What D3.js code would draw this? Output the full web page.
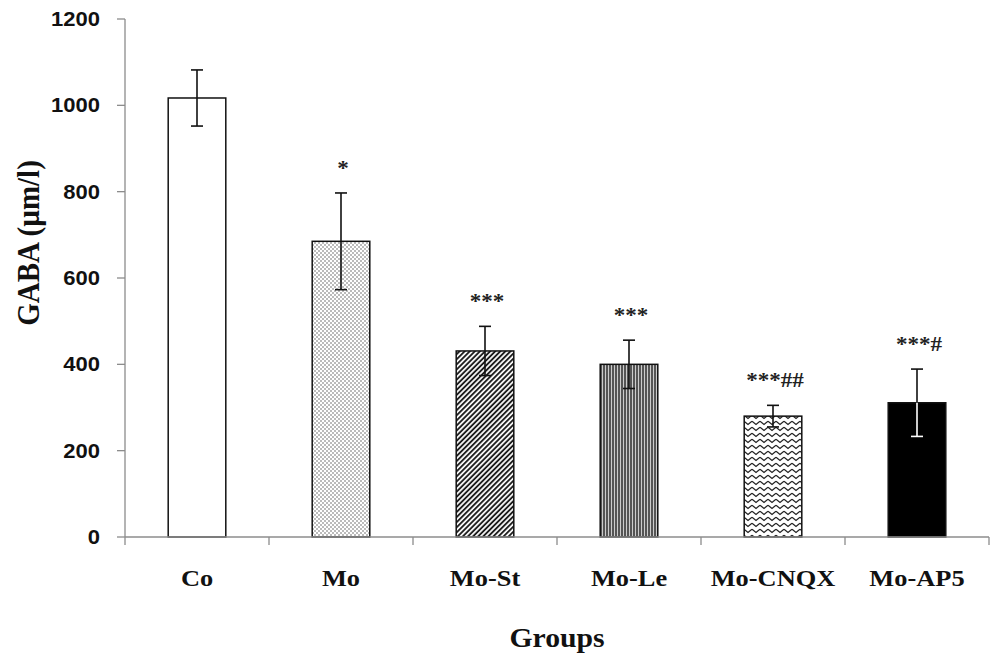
<!DOCTYPE html>
<html><head><meta charset="utf-8">
<script src="https://cdn.jsdelivr.net/npm/d3@7"></script>
<style>body{margin:0;background:#fff;} svg{display:block;}</style>
</head><body>
<svg id="c" width="992" height="655"></svg>
<script>
const groups = ["Co","Mo","Mo-St","Mo-Le","Mo-CNQX","Mo-AP5"];
const means  = [1017, 685, 431, 400, 280, 311];
const errors = [65, 112, 57, 56, 25, 78];
const sigLabels = ["", "*", "***", "***", "***##", "***#"];
const fills = ["white","dots","diag","vert","wave","black"];
const yTicks = [0,200,400,600,800,1000,1200];

const svg = d3.select("#c");
const x = d3.scaleBand().domain(groups).range([125, 989]).paddingInner(0.6).paddingOuter(0.3);
const y = d3.scaleLinear().domain([0,1200]).range([537, 19]);
const SX = 1.1;

// patterns
const defs = svg.append("defs");
const pDots = defs.append("pattern").attr("id","dots").attr("patternUnits","userSpaceOnUse").attr("width",4).attr("height",4);
pDots.append("rect").attr("width",4).attr("height",4).attr("fill","#fff");
pDots.append("circle").attr("cx",1).attr("cy",1).attr("r",0.7).attr("fill","#444");
pDots.append("circle").attr("cx",3).attr("cy",3).attr("r",0.7).attr("fill","#444");
const pDiag = defs.append("pattern").attr("id","diag").attr("patternUnits","userSpaceOnUse").attr("width",3.6).attr("height",3.6).attr("patternTransform","rotate(45)");
pDiag.append("rect").attr("width",3.6).attr("height",3.6).attr("fill","#fff");
pDiag.append("line").attr("x1",1).attr("x2",1).attr("y1",0).attr("y2",3.6).attr("stroke","#111").attr("stroke-width",1.8);
const pVert = defs.append("pattern").attr("id","vert").attr("patternUnits","userSpaceOnUse").attr("width",3).attr("height",3);
pVert.append("rect").attr("width",3).attr("height",3).attr("fill","#ccc");
pVert.append("line").attr("x1",1).attr("x2",1).attr("y1",0).attr("y2",3).attr("stroke","#222").attr("stroke-width",1.4);
const pWave = defs.append("pattern").attr("id","wave").attr("patternUnits","userSpaceOnUse").attr("width",8).attr("height",6);
pWave.append("rect").attr("width",8).attr("height",6).attr("fill","#fff");
pWave.append("path").attr("d","M0,1.2 L4,4.5 L8,1.2").attr("fill","none").attr("stroke","#222").attr("stroke-width",1.3);

const fillOf = f => (f==="white"||f==="black") ? (f==="white"?"#fff":"#000") : `url(#${f})`;

// axes
const axisColor = "#8c8c8c";
svg.append("line").attr("x1",125).attr("x2",125).attr("y1",y(1200)).attr("y2",y(0)).attr("stroke",axisColor).attr("stroke-width",1.3);
svg.selectAll(".yt").data(yTicks).join("line").attr("x1",117).attr("x2",125)
  .attr("y1",d=>y(d)).attr("y2",d=>y(d)).attr("stroke",axisColor).attr("stroke-width",1.3);
svg.selectAll(".yl").data(yTicks).join("text")
  .attr("transform",d=>`translate(100,${y(d)+7}) scale(${SX},1)`)
  .attr("text-anchor","end").attr("font-family","Liberation Sans, Arial, sans-serif")
  .attr("font-weight","bold").attr("font-size",20).attr("fill","#111").text(d=>d);

// bars
svg.selectAll(".bar").data(groups).join("rect")
  .attr("x",d=>x(d)).attr("width",x.bandwidth())
  .attr("y",(d,i)=>y(means[i])).attr("height",(d,i)=>y(0)-y(means[i]))
  .attr("fill",(d,i)=>fillOf(fills[i])).attr("stroke","#111").attr("stroke-width",1.5);

// x axis
svg.append("line").attr("x1",125).attr("x2",989).attr("y1",y(0)).attr("y2",y(0)).attr("stroke",axisColor).attr("stroke-width",1.3);
const bounds = groups.map(g=>x(g)-x.step()*x.paddingInner()/2).concat([989]);
svg.selectAll(".xt").data(bounds).join("line").attr("x1",d=>d).attr("x2",d=>d)
  .attr("y1",y(0)).attr("y2",y(0)+8).attr("stroke",axisColor).attr("stroke-width",1.3);
svg.selectAll(".xl").data(groups).join("text")
  .attr("transform",d=>`translate(${x(d)+x.bandwidth()/2},586) scale(${SX},1)`)
  .attr("text-anchor","middle").attr("font-family","Liberation Serif, Times New Roman, serif")
  .attr("font-weight","bold").attr("font-size",24).attr("fill","#111").text(d=>d);

// error bars
groups.forEach((g,i)=>{
  const cx = x(g)+x.bandwidth()/2;
  const lowColor = fills[i]==="black" ? "#fff" : "#111";
  svg.append("line").attr("x1",cx).attr("x2",cx).attr("y1",y(means[i])).attr("y2",y(means[i]+errors[i])).attr("stroke","#111").attr("stroke-width",1.6);
  svg.append("line").attr("x1",cx-6).attr("x2",cx+6).attr("y1",y(means[i]+errors[i])).attr("y2",y(means[i]+errors[i])).attr("stroke","#111").attr("stroke-width",1.6);
  svg.append("line").attr("x1",cx).attr("x2",cx).attr("y1",y(means[i])).attr("y2",y(means[i]-errors[i])).attr("stroke",lowColor).attr("stroke-width",1.6);
  svg.append("line").attr("x1",cx-6).attr("x2",cx+6).attr("y1",y(means[i]-errors[i])).attr("y2",y(means[i]-errors[i])).attr("stroke",lowColor).attr("stroke-width",1.6);
  if (sigLabels[i]) {
    svg.append("text").attr("transform",`translate(${cx+2},${y(means[i]+errors[i])-18}) scale(${SX},1)`)
      .attr("text-anchor","middle").attr("font-family","Liberation Serif, Times New Roman, serif")
      .attr("font-weight","bold").attr("font-size",21).attr("fill","#222").text(sigLabels[i]);
  }
});

// axis titles
svg.append("text").attr("transform",`translate(39,243) scale(${SX},1) rotate(-90)`)
  .attr("text-anchor","middle").attr("font-family","Liberation Serif, Times New Roman, serif")
  .attr("font-weight","bold").attr("font-size",29).attr("fill","#111").text("GABA (µm/l)");
svg.append("text").attr("transform",`translate(557,647) scale(${SX},1)`)
  .attr("text-anchor","middle").attr("font-family","Liberation Serif, Times New Roman, serif")
  .attr("font-weight","bold").attr("font-size",27).attr("fill","#111").text("Groups");
</script>
</body></html>
